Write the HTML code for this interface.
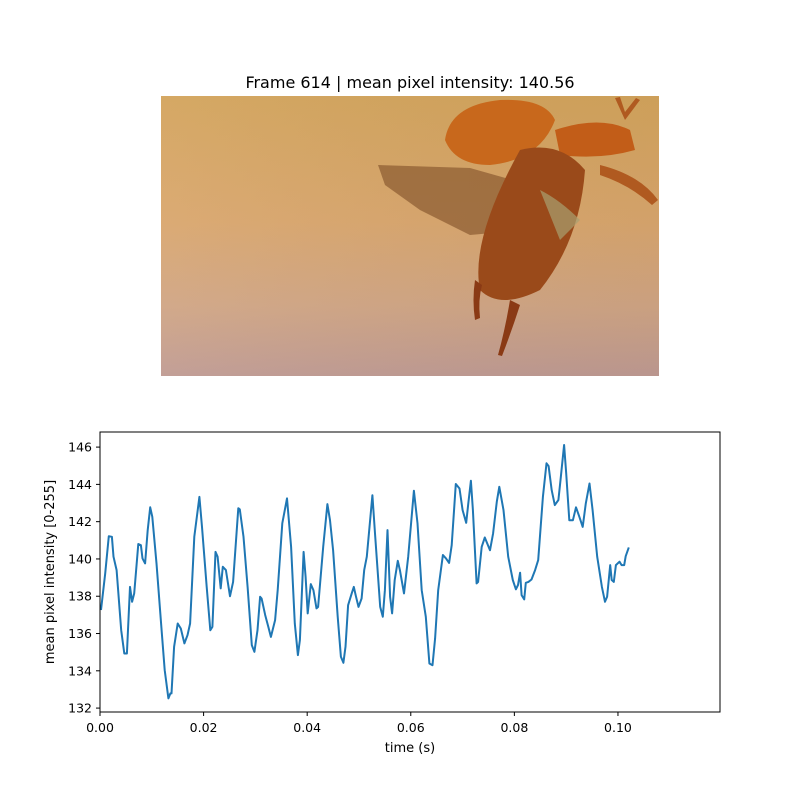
<!DOCTYPE html>
<html><head><meta charset="utf-8"><style>
body{margin:0;background:#fff;}
svg text{font-family:"DejaVu Sans","Liberation Sans",sans-serif;}
</style></head><body>
<svg width="800" height="800" viewBox="0 0 800 800">
<defs>
<linearGradient id="bg" x1="0" y1="0" x2="0" y2="1">
<stop offset="0" stop-color="#d3a45c"/><stop offset="0.45" stop-color="#d9a66d"/><stop offset="0.75" stop-color="#d0a584"/><stop offset="1" stop-color="#bf9a92"/>
</linearGradient>
<linearGradient id="bgh" x1="0" y1="0" x2="1" y2="0">
<stop offset="0" stop-color="#fff" stop-opacity="0.05"/><stop offset="1" stop-color="#000" stop-opacity="0.03"/>
</linearGradient>
</defs>
<text x="410" y="88" font-size="16" text-anchor="middle">Frame 614 | mean pixel intensity: 140.56</text>
<g>
<rect x="161" y="96" width="498" height="280" fill="url(#bg)"/>
<rect x="161" y="96" width="498" height="280" fill="url(#bgh)"/>
<g>
<path d="M378 165 L470 168 L530 185 L525 230 L470 235 L420 210 L385 185 Z" fill="#8a5a30" opacity="0.7"/>
<path d="M445 140 Q450 105 500 100 Q545 98 555 120 Q540 160 490 165 Q455 165 445 140 Z" fill="#c8681c"/>
<path d="M555 130 Q600 115 630 130 L635 150 Q600 160 560 155 Z" fill="#c25d18"/>
<path d="M520 150 Q560 140 585 170 Q580 240 540 290 Q500 310 480 290 Q470 240 520 150 Z" fill="#9a4a1a"/>
<path d="M540 190 Q560 200 580 220 L560 240 Z" fill="#a8a070" opacity="0.7"/>
<path d="M600 165 Q640 175 658 200 L652 205 Q630 185 600 175 Z" fill="#b05a20"/>
<path d="M510 300 Q505 330 498 355 L502 356 Q512 330 520 305 Z" fill="#8a3a15"/>
<path d="M475 280 Q472 300 475 320 L480 318 Q478 300 482 285 Z" fill="#8a3a15"/>
<path d="M615 98 L625 120 L640 100 L636 98 L625 112 L620 97 Z" fill="#b05a20"/>
</g>
</g>
<g>
<rect x="100" y="432" width="620" height="280" fill="#fff"/>
<g id="ticks"></g>
<polyline id="series" fill="none" stroke="#1f77b4" stroke-width="2" stroke-linejoin="round"/>
<rect x="100" y="432" width="620" height="280" fill="none" stroke="#000" stroke-width="1"/>
<text x="410" y="752" font-size="13" text-anchor="middle">time (s)</text>
<text transform="translate(54,572) rotate(-90)" font-size="13" text-anchor="middle">mean pixel intensity [0-255]</text>
</g>
</svg>
<script>
const times=[0.0002,0.0010,0.0017,0.0023,0.0026,0.0032,0.0041,0.0047,0.0052,0.0058,0.0062,0.0066,0.0074,0.0079,0.0082,0.0087,0.0092,0.0097,0.0101,0.0109,0.0119,0.0125,0.0132,0.0136,0.0138,0.0143,0.0150,0.0156,0.0163,0.0169,0.0174,0.0182,0.0192,0.0197,0.0206,0.0213,0.0217,0.0223,0.0227,0.0233,0.0237,0.0243,0.0251,0.0257,0.0267,0.0270,0.0277,0.0285,0.0293,0.0298,0.0304,0.0309,0.0312,0.0319,0.0325,0.0330,0.0338,0.0343,0.0352,0.0361,0.0369,0.0376,0.0382,0.0386,0.0393,0.0397,0.0401,0.0407,0.0412,0.0418,0.0421,0.0431,0.0439,0.0444,0.0450,0.0459,0.0465,0.0470,0.0474,0.0479,0.0486,0.0490,0.0494,0.0499,0.0505,0.0510,0.0515,0.0526,0.0531,0.0541,0.0546,0.0550,0.0555,0.0560,0.0564,0.0569,0.0575,0.0579,0.0587,0.0595,0.0606,0.0613,0.0621,0.0629,0.0636,0.0642,0.0647,0.0653,0.0662,0.0668,0.0674,0.0679,0.0687,0.0694,0.0700,0.0707,0.0711,0.0716,0.0720,0.0727,0.0730,0.0737,0.0743,0.0753,0.0759,0.0766,0.0771,0.0779,0.0788,0.0797,0.0803,0.0807,0.0811,0.0814,0.0819,0.0822,0.0827,0.0833,0.0840,0.0846,0.0855,0.0862,0.0866,0.0872,0.0878,0.0885,0.0889,0.0896,0.0900,0.0906,0.0913,0.0919,0.0925,0.0932,0.0938,0.0945,0.0951,0.0960,0.0969,0.0975,0.0979,0.0985,0.0988,0.0992,0.0996,0.1003,0.1007,0.1012,0.1015,0.1021];
const intensity=[137.26,139.22,141.22,141.19,140.12,139.4,136.18,134.93,134.93,138.5,137.7,138.15,140.8,140.74,140.03,139.76,141.55,142.77,142.26,139.76,136.18,134.04,132.52,132.79,132.79,135.29,136.54,136.27,135.47,135.91,136.54,141.19,143.33,141.72,138.5,136.18,136.36,140.38,140.12,138.42,139.58,139.4,138.0,138.77,142.72,142.66,141.19,138.5,135.38,135.02,136.18,137.97,137.88,136.99,136.36,135.82,136.72,138.33,141.91,143.25,140.65,136.54,134.84,135.65,140.38,139.04,137.08,138.65,138.33,137.35,137.43,140.65,142.94,142.08,140.47,136.9,134.75,134.43,135.29,137.52,138.15,138.5,138.0,137.43,137.88,139.4,140.12,143.42,141.37,137.43,136.9,138.33,141.55,137.97,137.08,138.87,139.9,139.4,138.15,140.12,143.66,141.91,138.33,136.9,134.39,134.3,135.74,138.33,140.21,140.03,139.79,140.74,144.02,143.78,142.62,141.94,142.98,144.19,142.62,138.69,138.77,140.65,141.15,140.47,141.37,143.07,143.87,142.62,140.12,138.87,138.37,138.6,139.26,138.06,137.83,138.72,138.77,138.9,139.4,139.94,143.33,145.13,144.98,143.69,142.89,143.16,144.23,146.11,144.59,142.08,142.08,142.77,142.3,141.72,142.98,144.05,142.62,140.12,138.5,137.7,137.97,139.67,138.87,138.77,139.67,139.85,139.67,139.67,140.15,140.62];
const xTicks=[0,0.02,0.04,0.06,0.08,0.10];
const yTicks=[132,134,136,138,140,142,144,146];
const X0=100,X1=720,Y0=712,Y1=432,xMin=0,xMax=0.1197,yMin=131.79,yMax=146.81;
const xs=v=>X0+(v-xMin)/(xMax-xMin)*(X1-X0);
const ys=v=>Y0-(v-yMin)/(yMax-yMin)*(Y0-Y1);
const NS='http://www.w3.org/2000/svg';
const g=document.getElementById('ticks');
xTicks.forEach(t=>{
  const l=document.createElementNS(NS,'line');
  l.setAttribute('x1',xs(t));l.setAttribute('x2',xs(t));l.setAttribute('y1',712);l.setAttribute('y2',716);l.setAttribute('stroke','#000');
  
  
  g.appendChild(l);
  const tx=document.createElementNS(NS,'text');
  tx.setAttribute('x',xs(t));tx.setAttribute('y',732);tx.setAttribute('font-size','12.5');tx.setAttribute('text-anchor','middle');
  tx.textContent=t.toFixed(2);
  
  
  g.appendChild(tx);
});
yTicks.forEach(t=>{
  const l=document.createElementNS(NS,'line');
  l.setAttribute('x1',96);l.setAttribute('x2',100);l.setAttribute('y1',ys(t));l.setAttribute('y2',ys(t));l.setAttribute('stroke','#000');
  
  
  g.appendChild(l);
  const tx=document.createElementNS(NS,'text');
  tx.setAttribute('x',92);tx.setAttribute('y',ys(t)+4.5);tx.setAttribute('font-size','12.5');tx.setAttribute('text-anchor','end');
  tx.textContent=String(t);
  
  
  g.appendChild(tx);
});
document.getElementById('series').setAttribute('points',times.map((t,i)=>xs(t).toFixed(1)+','+ys(intensity[i]).toFixed(1)).join(' '));
</script>
</body></html>
